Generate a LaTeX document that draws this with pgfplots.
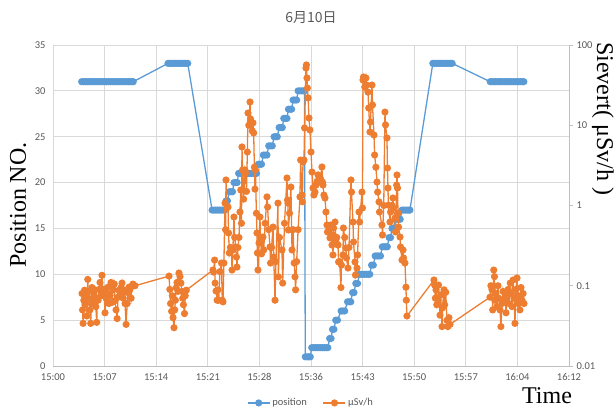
\documentclass[border=0pt]{standalone}
\usepackage{fontspec}
\setmainfont{Carlito}
\newfontfamily\serifl{Liberation Serif}
\newfontfamily\cjk{Noto Sans CJK JP}
\usepackage{pgfplots}
\pgfplotsset{compat=1.18}
\definecolor{pblue}{HTML}{5B9BD5}
\definecolor{porange}{HTML}{ED7D31}
\definecolor{gridgrey}{HTML}{D9D9D9}
\definecolor{axisgrey}{HTML}{BFBFBF}
\definecolor{txtgrey}{HTML}{595959}
\begin{document}
\begin{tikzpicture}[x=1pt,y=1pt]
\begin{axis}[name=a1,
 scale only axis, width=516pt, height=321pt,
 xmin=0, xmax=72, ymin=0, ymax=35,
 xtick={0,7.2,14.4,21.6,28.8,36,43.2,50.4,57.6,64.8,72},
 xticklabels={15:00,15:07,15:14,15:21,15:28,15:36,15:43,15:50,15:57,16:04,16:12},
 ytick={0,5,10,15,20,25,30,35},
 grid=major, major grid style={draw=gridgrey, line width=0.9pt},
 axis line style={draw=none},
 xtick pos=bottom, ytick pos=left,
 major tick length=0pt,
 tick label style={font=\fontsize{10.5}{12}\selectfont, text=txtgrey},
 /pgf/number format/assume math mode=true,
 yticklabel style={xshift=-4pt},
 xticklabel style={yshift=-4pt},
 clip=false,
]
\coordinate (bl) at (rel axis cs:0,0);
\draw[axisgrey, line width=0.9pt] (rel axis cs:0,0) -- (rel axis cs:1,0);
\addplot[pblue, line width=1.3pt, mark=*, mark size=2.9pt, mark options={fill=pblue, draw=pblue}] coordinates {
(4.0,31)(4.25,31)(4.5,31)(4.75,31)(5,31)(5.25,31)(5.5,31)(5.75,31)(6,31)(6.25,31)(6.5,31)(6.75,31)(7,31)(7.25,31)(7.5,31)(7.75,31)(8,31)(8.25,31)(8.5,31)(8.75,31)(9,31)(9.25,31)(9.5,31)(9.75,31)(10,31)(10.25,31)(10.5,31)(10.75,31)(11,31)(11.2,31)
(16.05,33)(16.3,33)(16.55,33)(16.8,33)(17.05,33)(17.3,33)(17.55,33)(17.8,33)(18.05,33)(18.3,33)(18.55,33)(18.8,33)
(22.2,17)(22.45,17)(22.7,17)(22.95,17)(23.2,17)(23.45,17)(23.7,17)(23.95,17)
(24.15,18)(24.35,18)
(24.6,19)(24.85,19)(25.05,19)
(25.25,20)(25.5,20)(25.7,20)
(25.9,21)(26.15,21)(26.4,21)(26.65,21)(26.9,21)(27.15,21)(27.4,21)(27.65,21)(27.9,21)(28.15,21)(28.4,21)
(28.65,22)(28.9,22)(29.1,22)
(29.35,23)(29.6,23)(29.85,23)
(30.1,24)(30.35,24)(30.6,24)
(30.85,25)(31.1,25)(31.3,25)
(31.55,26)(31.8,26)(32.0,26)
(32.2,27)(32.45,27)(32.65,27)
(32.85,28)(33.1,28)(33.3,28)
(33.5,29)(33.75,29)(34.0,29)
(34.2,30)(34.45,30)(34.7,30)(34.95,30)(35.1,30)
(35.2,1)(35.45,1)(35.7,1)(35.9,1)
(36.1,2)(36.35,2)(36.6,2)(36.85,2)(37.1,2)(37.35,2)(37.6,2)(37.85,2)(38.1,2)(38.35,2)
(38.6,3)(38.8,3)
(39.0,4)(39.2,4)
(39.45,5)(39.7,5)
(40.2,6)(40.45,6)(40.7,6)
(41.1,7)(41.35,7)(41.55,7)
(41.8,8)(42.0,8)
(42.25,9)(42.5,9)
(42.75,10)(43.0,10)(43.25,10)(43.5,10)(43.75,10)(44.0,10)(44.2,10)
(44.45,11)(44.7,11)
(44.95,12)(45.2,12)(45.45,12)(45.7,12)
(45.95,13)(46.2,13)(46.45,13)(46.65,13)
(46.9,14)(47.1,14)
(47.3,15)(47.5,15)
(47.75,16)(48.0,16)(48.25,16)(48.45,16)
(48.7,17)(48.95,17)(49.2,17)(49.45,17)(49.7,17)(49.8,17)
(53.0,33)(53.25,33)(53.5,33)(53.75,33)(54.0,33)(54.25,33)(54.5,33)(54.75,33)(55.0,33)(55.25,33)(55.5,33)(55.7,33)
(61.0,31)(61.25,31)(61.5,31)(61.75,31)(62.0,31)(62.25,31)(62.5,31)(62.75,31)(63.0,31)(63.25,31)(63.5,31)(63.75,31)(64.0,31)(64.25,31)(64.5,31)(64.75,31)(65.0,31)(65.25,31)(65.5,31)(65.7,31)
};
\end{axis}
\begin{axis}[
 at={(a1.south west)}, anchor=south west, scale only axis, width=516pt, height=321pt,
 xmin=0, xmax=72, ymode=log, ymin=0.01, ymax=100,
 axis line style={draw=none}, xtick=\empty,
 ytick pos=right, yticklabel pos=right,
 ytick={0.01,0.1,1,10,100}, yticklabels={0.01,0.1,1,10,100},
 yminorticks=false,
 tick align=outside, major tick length=4pt,
 ytick style={draw=axisgrey, line width=0.9pt},
 tick label style={font=\fontsize{10.5}{12}\selectfont, text=txtgrey},
 legend columns=2,
 legend style={at={(0.5,-0.115)}, anchor=center, draw=none, fill=none,
   font=\fontsize{10.5}{12}\selectfont, text=txtgrey,
   /tikz/every even column/.append style={column sep=14pt}},
 legend image code/.code={\draw[mark repeat=2,mark phase=2] plot coordinates {(0pt,0pt)(11pt,0pt)(22pt,0pt)};},
 clip=false,
]
\draw[axisgrey, line width=0.9pt] (rel axis cs:1,0) -- (rel axis cs:1,1);
\addlegendimage{pblue, line width=1.3pt, mark=*, mark size=2.9pt, mark options={fill=pblue, draw=pblue}}
\addlegendentry{position}
\addplot[porange, line width=1.3pt, mark=*, mark size=2.9pt, mark options={fill=porange, draw=porange}] coordinates {
(4.05,0.080)(4.12,0.050)(4.20,0.034)(4.30,0.066)(4.40,0.088)(4.50,0.058)(4.62,0.075)(4.72,0.042)(4.85,0.120)(4.95,0.070)
(5.05,0.085)(5.16,0.050)(5.26,0.034)(5.35,0.060)(5.44,0.095)(5.55,0.066)(5.70,0.080)(5.86,0.089)(5.98,0.055)(6.10,0.035)
(6.20,0.070)(6.30,0.066)(6.45,0.090)(6.56,0.110)(6.70,0.075)(6.84,0.135)(6.95,0.080)(7.10,0.090)(7.26,0.046)(7.40,0.070)
(7.55,0.081)(7.67,0.096)(7.80,0.060)(7.95,0.075)(8.10,0.110)(8.23,0.062)(8.40,0.090)(8.55,0.105)(8.65,0.065)(8.80,0.050)
(8.95,0.039)(9.07,0.072)(9.20,0.088)(9.35,0.077)(9.50,0.095)(9.63,0.108)(9.80,0.070)(9.95,0.088)(10.05,0.060)(10.20,0.033)
(10.35,0.060)(10.46,0.082)(10.60,0.096)(10.74,0.090)(10.90,0.070)(11.05,0.100)(11.16,0.105)(11.44,0.100)
(16.19,0.132)(16.30,0.090)(16.40,0.060)(16.55,0.048)(16.65,0.075)(16.75,0.040)(16.88,0.030)(16.98,0.050)(17.08,0.066)(17.20,0.094)
(17.30,0.110)(17.44,0.085)(17.58,0.144)(17.72,0.130)(17.85,0.108)(18.00,0.085)(18.10,0.070)(18.20,0.058)(18.35,0.045)(18.45,0.075)(18.60,0.088)
(22.32,0.157)(22.40,0.148)(22.55,0.209)(22.62,0.108)(22.75,0.086)(22.90,0.066)(23.02,0.089)(23.12,0.066)(23.30,0.150)(23.50,0.192)
(23.62,0.066)(23.72,0.063)(23.85,0.192)(24.00,1.07)(24.08,0.50)(24.14,2.08)(24.25,0.93)(24.42,0.957)(24.50,0.454)(24.60,0.256)
(24.75,0.30)(24.90,0.279)(24.98,0.157)(25.10,0.279)(25.25,0.719)(25.35,0.40)(25.50,0.304)(25.60,0.228)(25.67,0.171)(25.80,0.30)
(25.95,0.40)(26.09,0.830)(26.20,1.56)(26.30,0.60)(26.37,5.36)(26.45,2.77)(26.60,1.20)(26.79,2.77)(26.88,2.54)(27.00,1.50)
(27.12,4.64)(27.21,14.2)(27.32,10.0)(27.49,19.5)(27.56,12.0)(27.65,10.7)(27.80,8.5)(27.90,10.7)(28.00,8.01)(28.10,3.0)
(28.18,1.60)(28.25,2.77)(28.38,0.80)(28.46,0.454)(28.52,0.256)(28.60,0.157)(28.75,0.341)(28.88,0.719)(28.95,0.40)(29.10,0.25)
(29.30,0.405)(29.40,0.279)(29.60,0.60)(29.86,1.28)(29.95,0.957)(30.10,0.50)(30.28,0.304)(30.35,0.192)(30.50,0.30)(30.70,0.539)
(30.80,0.228)(30.98,0.066)(31.10,0.20)(31.39,1.07)(31.45,0.129)(31.60,0.40)(31.95,0.279)(32.05,0.108)(32.30,0.60)(32.65,2.20)
(32.72,1.17)(32.79,1.07)(32.85,0.495)(33.00,0.80)(33.20,1.70)(33.35,0.279)(33.50,0.50)(33.65,0.192)(33.77,0.129)(33.85,0.089)
(34.00,0.20)(34.20,0.50)(34.46,1.28)(34.55,3.69)(34.74,1.35)(34.80,1.11)(34.88,3.48)(35.02,3.69)(35.10,9.25)(35.30,51.7)
(35.36,56.4)(35.44,38.8)(35.50,29.1)(35.60,21.9)(35.72,12.3)(35.85,8.73)(36.00,4.64)(36.14,2.61)(36.28,1.65)(36.40,1.35)
(36.56,1.47)(36.70,1.80)(36.85,2.0)(36.98,2.40)(37.10,1.96)(37.30,2.2)(37.53,3.02)(37.60,1.96)(37.67,1.80)(37.80,1.35)
(37.95,1.24)(38.09,0.83)(38.23,0.571)(38.30,0.468)(38.50,0.50)(38.65,0.394)(38.75,0.571)(38.93,0.322)(39.00,0.429)(39.07,0.242)
(39.15,0.524)(39.35,0.622)(39.49,0.351)(39.60,0.40)(39.77,0.322)(39.85,0.198)(40.00,0.20)(40.18,0.095)(40.25,0.181)(40.46,0.242)
(40.52,0.524)(40.70,0.40)(40.88,0.295)(40.95,0.222)(41.16,0.166)(41.30,0.30)(41.58,2.08)(41.65,1.47)(41.86,0.622)(41.93,0.351)
(42.14,0.198)(42.20,0.136)(42.42,0.166)(42.50,0.242)(42.70,0.830)(42.78,0.622)(43.11,1.47)(43.18,0.931)(43.25,36.6)(43.32,39.9)
(43.50,30.0)(43.67,38.8)(43.75,31.7)(43.95,25.9)(44.05,16.4)(44.23,8.24)(44.30,11.0)(44.51,31.7)(44.58,17.9)(44.79,7.56)
(44.88,4.26)(45.05,3.0)(45.21,1.96)(45.30,1.47)(45.49,1.11)(45.55,0.83)(45.90,0.571)(45.98,0.429)(46.15,1.0)(46.32,14.6)
(46.40,10.1)(46.60,6.94)(46.67,2.93)(46.74,1.65)(46.80,1.01)(47.02,0.622)(47.10,0.83)(47.30,1.0)(47.44,1.24)(47.50,0.931)
(47.72,0.698)(47.80,0.468)(47.95,1.80)(48.00,2.40)(48.07,1.65)(48.14,0.807)(48.22,0.539)(48.42,0.405)(48.50,0.304)(48.70,0.209)
(48.84,0.279)(48.92,0.222)(49.11,0.192)(49.25,0.096)(49.30,0.066)(49.39,0.042)
(53.16,0.118)(53.25,0.102)(53.35,0.070)(53.44,0.089)(53.55,0.058)(53.72,0.066)(53.80,0.102)(54.00,0.043)(54.10,0.077)(54.28,0.031)
(54.35,0.053)(54.56,0.089)(54.65,0.058)(54.80,0.083)(54.97,0.037)(55.10,0.031)(55.25,0.040)(55.39,0.033)
(60.97,0.072)(61.10,0.100)(61.25,0.090)(61.35,0.050)(61.50,0.157)(61.60,0.130)(61.67,0.066)(61.80,0.080)(61.95,0.055)(62.09,0.100)
(62.20,0.070)(62.37,0.050)(62.50,0.031)(62.65,0.060)(62.79,0.085)(62.95,0.066)(63.10,0.080)(63.21,0.046)(63.35,0.070)(63.50,0.090)
(63.63,0.060)(63.80,0.108)(63.95,0.080)(64.04,0.055)(64.20,0.118)(64.35,0.070)(64.46,0.034)(64.60,0.090)(64.75,0.125)(64.88,0.060)
(65.00,0.075)(65.15,0.050)(65.30,0.095)(65.45,0.066)(65.60,0.080)(65.72,0.060)
};
\addlegendentry{μSv/h}
\end{axis}
\node[font=\cjk\fontsize{14}{16}\selectfont, text=txtgrey] at ([shift={(258,348)}]bl) {6月10日};
\node[font=\serifl\fontsize{24}{26}\selectfont, rotate=90] at ([shift={(-35,161)}]bl) {Position NO.};
\node[font=\serifl\fontsize{24}{26}\selectfont, rotate=-90, anchor=west, inner sep=0pt] at ([shift={(550,324)}]bl) {Sievert( μSv/h )};
\node[font=\serifl\fontsize{24}{26}\selectfont] at ([shift={(494,-30)}]bl) {Time};
\pgfresetboundingbox
\path[use as bounding box] ([shift={(-53,-42)}]bl) rectangle ([shift={(563,366)}]bl);
\end{tikzpicture}
\end{document}
